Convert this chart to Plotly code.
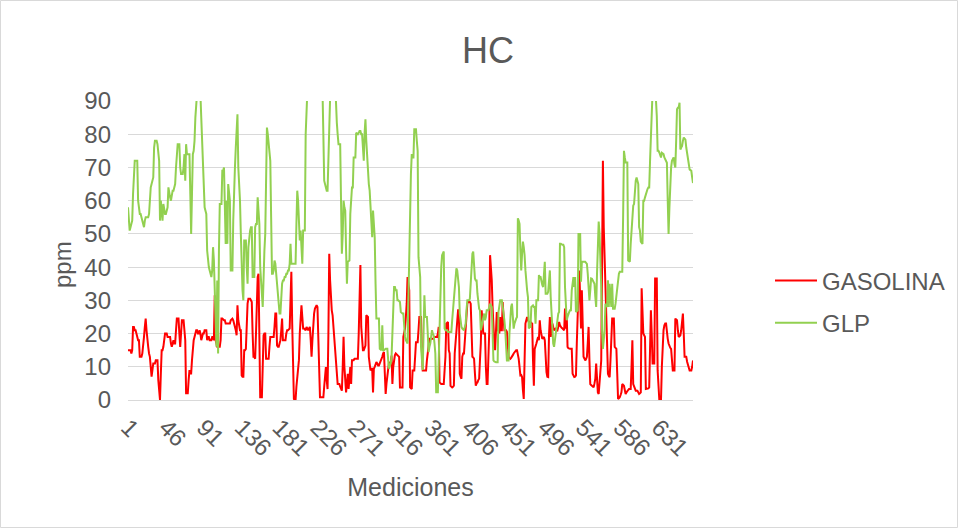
import plotly.graph_objects as go

# ---------------- data ----------------
gasolina = [
    15, 15, 15, 15, 14, 15, 22, 22, 21, 21,
    20, 19, 18, 18, 13, 13, 13, 14, 16, 19,
    22, 24.5, 21, 17, 16, 14, 13, 10, 7, 9,
    11, 11, 11, 12, 12, 12, 6, 3, 0, 8,
    15, 15, 16, 18, 20, 20, 20, 19, 19, 19,
    19, 17, 16, 17, 18, 17, 17, 21, 24.5, 24.5,
    24.5, 20, 16, 20, 24, 24, 24, 21, 18, 2,
    2, 2, 6, 9, 8, 8, 12, 16, 18, 19,
    20, 21, 21, 20, 20, 21, 20, 18, 19, 20,
    20, 21, 21, 21, 18, 19, 19, 18, 18, 18,
    19, 19, 18, 31.5, 18, 17, 16, 16, 16, 16,
    18, 24.5, 24.5, 24, 24, 24, 23, 23, 23, 23,
    23, 23, 24, 24.5, 24.5, 24, 23, 22.5, 21, 19.5,
    28.5, 24, 21.5, 21, 21, 7.4, 7, 7, 15, 15,
    15.4, 27, 29, 30.5, 30.5, 30.5, 30, 29.5, 20, 13,
    13, 12.4, 20, 34, 37, 38, 20, 0.8, 0.8, 0.8,
    10, 19.5, 20, 20, 12.4, 12.4, 12.4, 12.4, 16, 19,
    19, 19, 19, 19, 22, 26, 26, 16.4, 16, 16,
    17, 18, 21, 24.5, 18, 18, 18, 18, 20, 21,
    21, 21.5, 21.5, 30, 38.6, 23, 12, 0.3, 0, 0,
    4, 7, 7.4, 12, 20, 24, 28.5, 25, 21.5, 21.5,
    21, 21, 22, 21.5, 21, 21.5, 22, 18, 13, 18,
    24, 26, 27.5, 28, 28.5, 28, 20, 15, 0.8, 0.8,
    0.8, 0.8, 0.8, 4, 7, 9.9, 6, 3.3, 20, 44,
    36, 28, 27, 25.5, 22, 18.4, 14, 11, 7, 4.8,
    4.8, 4.8, 4, 3, 2.8, 10, 19, 10, 4.8, 2.3,
    5, 7.9, 3.3, 7, 9.9, 4.8, 12, 12, 12, 12.4,
    12.4, 12.4, 12.4, 12.4, 20, 28, 40.6, 22, 16.4, 15,
    15, 16, 16.4, 25.5, 25, 25, 13, 10, 8.9, 9.4,
    9.4, 2.3, 9.4, 10, 11, 11.4, 11, 10.4, 10.4, 11,
    11.4, 12, 13, 14, 14.4, 8, 1.8, 5, 7.9, 10,
    11.4, 11, 10.9, 13.4, 4.8, 10, 13, 13.5, 14, 13.7,
    13.4, 13.2, 13, 3.8, 3.8, 3.8, 3.8, 19, 20, 21.5,
    25, 29, 37, 35, 33, 3.8, 3.5, 3.3, 8.9, 8.9,
    8.9, 13, 17.4, 17.4, 17.4, 21, 25, 25, 25, 15,
    8.9, 8.9, 8.9, 8.9, 8.9, 12, 14.4, 17, 18.4, 18.4,
    18.4, 18.4, 18.4, 18.4, 19, 19, 19, 19, 20, 22,
    5.3, 5, 4.8, 4.8, 4.8, 4.8, 9, 13, 23, 23.5,
    23.5, 15, 14, 4.3, 4, 3.8, 4, 4.3, 14, 18,
    21, 26.5, 27, 27, 7.9, 7, 6.4, 13, 14, 14,
    18, 21, 26, 29, 29.5, 29.5, 29.5, 29, 20, 13,
    12.8, 12.4, 8, 4.3, 5, 5.3, 6, 6.4, 12, 17,
    27, 23, 20, 20, 20, 10, 4.8, 4.8, 12, 20.5,
    43.6, 40, 36, 28, 20, 17, 15, 20, 26.5, 21,
    21, 20, 25, 21, 21, 29.5, 25, 21, 21, 21,
    20.5, 16, 13, 12.6, 12.4, 12.7, 13, 13.5, 14, 14.5,
    15, 15, 15, 14, 12.4, 10, 7.4, 7.5, 6.9, 3,
    0.3, 12, 23, 24, 25, 24, 23.5, 23.5, 23.5, 23.2,
    23, 12, 4.3, 15.4, 16, 17, 18, 19, 18, 24,
    21, 19, 18.4, 18.7, 19, 18, 12, 8.4, 7, 6.9,
    19.5, 25, 19, 21, 23, 22, 21, 21.3, 21.5, 21.2,
    21, 22, 23.5, 22.5, 22, 21.7, 21.5, 21.2, 21, 27.5,
    21.5, 26, 16, 15.6, 15.4, 15.4, 15.4, 15.4, 7.9, 7.4,
    6.9, 7, 7.4, 17, 27.5, 33, 39, 30, 21.5, 33,
    23, 13, 12.5, 11.9, 12.3, 13, 17, 22, 12, 4.8,
    4.5, 4.3, 4, 3.8, 5, 6.4, 11, 6, 2.3, 1.8,
    4.5, 7.9, 11.9, 40, 72, 52, 43, 33, 28, 23,
    7.9, 7.2, 6.9, 12, 18, 24.5, 24.5, 24.5, 16, 15.7,
    15.4, 8, 0.3, 0.5, 0.8, 1.5, 2.3, 4.8, 4.5, 4.3,
    3, 1.8, 2.3, 2.8, 3, 3.3, 3.3, 3.3, 10, 18,
    4.8, 4, 3.3, 2.8, 2.8, 2.8, 2.3, 1.8, 2, 2.3,
    33.6, 25, 20, 19.5, 19, 3.3, 3.3, 3.3, 3.5, 3.8,
    15, 27, 20, 11, 11, 11, 36.6, 36.6, 36.6, 8.9,
    3, 0, 0, 0, 10, 19.5, 21, 22.5, 23, 23,
    20, 18.4, 17, 16, 15.7, 15.4, 12, 8.9, 8.9, 8.9,
    24.5, 24.2, 24, 21, 19, 19.2, 19.5, 21, 23, 26,
    20, 13, 13, 13, 11.5, 10.4, 9.5, 8.9, 8.9, 8.9,
    10, 11.9,
]

glp = [
    58, 55, 51, 52, 53, 54, 62, 69, 72, 72,
    72, 72, 60, 57, 56, 56, 55, 54, 53, 52,
    54, 55, 55, 55, 55, 56, 63, 64, 65, 66,
    67, 76, 78, 78, 78, 77, 75, 72, 54, 60,
    57, 54, 59, 57, 56, 56, 57, 58, 64, 62,
    61, 60, 62, 63, 63, 64, 65, 70, 76, 77,
    77, 77, 70, 68, 68, 68, 70, 74, 66, 77,
    74, 74, 74, 74, 62, 50, 62, 74, 75, 78,
    85, 92, 95, 96, 95, 93, 92, 85, 78, 73,
    65, 58, 57, 56, 45, 41, 40, 39, 38, 37,
    39, 46, 42, 30, 19, 16, 36, 14, 45, 59,
    59, 59, 69, 69, 70, 61, 47, 60, 47, 65,
    62, 60, 39, 39, 39, 54, 65, 70, 76, 80,
    86, 70, 66, 60, 50, 38, 33, 30, 48, 48,
    48, 40, 35, 46, 49, 51, 52, 52, 37, 37,
    37, 52, 53, 53, 61, 57, 53, 40, 37, 32,
    28, 39, 45, 50, 73, 82, 80, 77, 75, 72,
    55, 38, 38, 39, 42, 41, 38, 35, 30, 27,
    26, 26, 33, 35, 36, 36, 37, 37, 38, 38,
    39, 39, 41, 47, 41, 41, 41, 41, 41, 41,
    53, 63, 60, 55, 48, 51, 46, 41, 51, 51,
    51, 80, 95, 100, 104, 106, 105, 103, 101, 100,
    102, 104, 105, 103, 101, 100, 98, 99, 101, 100,
    97, 93, 80, 66, 65, 64, 63, 63, 77, 88,
    96, 100, 101, 102, 100, 99, 96, 88, 83.5, 80,
    77, 77, 77, 60, 44, 50, 60, 58, 57, 45,
    35, 41.6, 42, 42, 56, 62, 64, 64, 73, 73,
    73, 80.4, 80, 80, 80.4, 81, 81, 80, 80, 76,
    72, 80.4, 84.5, 78, 73, 69, 65, 63, 58, 54,
    49, 57, 52, 49, 35, 24.5, 24.5, 24.5, 24.5, 15.4,
    15, 15, 22.5, 15, 15, 15.4, 15.4, 15.4, 15.4, 12,
    9.4, 10.4, 11, 13, 20, 27.5, 34, 34, 33, 33,
    30, 30, 29.5, 29.5, 26.5, 26, 26, 26, 22, 19,
    18, 17.4, 17, 30, 43, 60, 68, 74, 73, 73,
    81.5, 81.5, 81.5, 78, 75, 43, 40, 37, 16, 12,
    9, 20, 31.5, 25, 25, 25, 20, 14.4, 16, 17,
    19, 21, 20, 19.5, 17, 14, 2.3, 2.3, 2.3, 12,
    24, 34, 40, 43.6, 44, 44.7, 21.5, 21, 21, 21,
    20.5, 20.5, 20.5, 20.5, 20.5, 24, 27.5, 32, 35.6, 36,
    39.6, 39, 36, 34, 26, 23.5, 22, 21.5, 21, 21,
    22, 23, 27, 30, 30, 30, 30.5, 35, 40, 44,
    44.7, 40, 36.6, 36, 36, 32, 28, 27.5, 27, 21,
    22, 24, 25, 26, 24, 25, 27, 27, 27, 28,
    29, 28.5, 28, 20, 11.9, 11.6, 11.4, 11.4, 11.4, 11.4,
    26.5, 28, 30, 30, 30, 28, 26.5, 24, 21, 15,
    11.9, 11.9, 11.9, 20, 26.5, 28, 29, 25, 21.5, 23,
    24, 24.5, 25, 54.7, 54, 53, 45, 39, 44, 47.7,
    46, 43.6, 39, 35, 33, 31, 21.5, 22, 22, 28,
    28.5, 28.5, 28, 28, 23, 30, 30, 30, 37.6, 37,
    37, 35, 34.6, 34, 38, 41.6, 32, 32, 32, 32.6,
    35, 39, 31, 25, 19, 17, 16, 18, 20.5, 23,
    24, 26, 26.5, 47, 47, 46.7, 46.7, 46.7, 46, 34,
    28, 24, 25, 26, 26.5, 27, 27, 33, 36.6, 37,
    34, 37, 26.5, 27, 27, 50, 50, 50, 35.6, 41.6,
    41.6, 41.6, 41.6, 41.6, 41.3, 41, 38, 34, 30, 33,
    36.6, 36.5, 36, 35.5, 35, 31, 28, 38, 49.7, 53.7,
    50, 44, 34, 21, 15.4, 18, 21, 29, 28.5, 28,
    36, 28, 35, 30, 28, 35, 27.5, 27.5, 27.5, 29,
    31.5, 34, 37, 38, 38.6, 38.6, 38.6, 38.6, 55, 75,
    73, 71.5, 71.5, 71.5, 42, 41.8, 41.6, 47, 51, 58,
    58.5, 59, 64, 66, 67, 66, 65, 52, 51, 47.7,
    47.3, 47, 60, 60, 61, 62, 63, 63.5, 64, 64,
    72, 85, 95, 100, 100, 100, 95, 90, 85.5, 75,
    75, 74.5, 74, 73, 74.4, 74.2, 74, 73, 72.4, 72,
    71.4, 60, 50, 58, 67, 70, 72, 72.5, 73, 71,
    70, 78, 87.5, 88, 88, 89.5, 75.4, 76, 76.4, 78,
    79, 78.7, 78.4, 76, 74, 73.4, 71, 69.4, 69.2, 69,
    67, 65.3,
]

x_tick_values = [1, 46, 91, 136, 181, 226, 271, 316, 361, 406, 451, 496, 541, 586, 631]
x_tick_labels = [str(v) for v in x_tick_values]
y_tick_values = [0, 10, 20, 30, 40, 50, 60, 70, 80, 90]

mediciones_gas = list(range(1, len(gasolina) + 1))
mediciones_glp = list(range(1, len(glp) + 1))
n_points = max(len(gasolina), len(glp))

TEXT = "#595959"
GRID = "#D9D9D9"
FONT = "Liberation Sans, Arial, sans-serif"

fig = go.Figure()
fig.add_trace(go.Scatter(
    x=mediciones_gas, y=gasolina, mode="lines", name="GASOLINA",
    line=dict(color="#FF0000", width=2), legendgroup="g1",
))
fig.add_trace(go.Scatter(
    x=mediciones_glp, y=glp, mode="lines", name="GLP",
    line=dict(color="#92D050", width=2), legendgroup="g2",
))

W, H = 959, 529
L, R, T, B = 128, 266, 101, 129
pw, ph = W - L - R, H - T - B


def px_to_paper_x(px):
    return (px - L) / pw


def px_to_paper_y(py):
    return (H - B - py) / ph


fig.update_layout(
    width=W, height=H,
    margin=dict(l=L, r=R, t=T, b=B, pad=0, autoexpand=False),
    paper_bgcolor="white", plot_bgcolor="white",
    font=dict(family=FONT, color=TEXT, size=24),
    title=dict(text="HC", x=488 / W, xanchor="center", y=1 - 50 / H, yanchor="middle",
               xref="container", yref="container",
               font=dict(size=36, color=TEXT, family=FONT)),
    showlegend=True,
    legend=dict(
        x=px_to_paper_x(770), xanchor="left",
        y=px_to_paper_y(302), yanchor="middle",
        font=dict(size=24, color=TEXT, family=FONT),
        traceorder="grouped", tracegroupgap=8, itemwidth=42,
        bgcolor="rgba(0,0,0,0)",
    ),
    xaxis=dict(
        range=[1, n_points], tickmode="array",
        tickvals=x_tick_values, ticktext=x_tick_labels,
        tickangle=45, ticks="", showgrid=False, zeroline=False,
        showline=True, linecolor=GRID, linewidth=1,
        tickfont=dict(size=24, color=TEXT, family=FONT),
        ticklabelstandoff=3,
        title=dict(text="Mediciones", standoff=18,
                   font=dict(size=25, color=TEXT, family=FONT)),
    ),
    yaxis=dict(
        range=[0, 90], tickmode="array", tickvals=y_tick_values,
        ticks="", showgrid=True, gridcolor=GRID, gridwidth=1,
        zeroline=False, showline=False,
        tickfont=dict(size=24, color=TEXT, family=FONT),
        ticklabelstandoff=16,
    ),
    annotations=[dict(
        text="ppm", textangle=-90, xref="paper", yref="paper",
        x=px_to_paper_x(62), y=px_to_paper_y(265),
        xanchor="center", yanchor="middle", showarrow=False,
        font=dict(size=24, color=TEXT, family=FONT),
    )],
    shapes=[dict(
        type="rect", xref="paper", yref="paper",
        x0=px_to_paper_x(0.5), x1=px_to_paper_x(957.5),
        y0=px_to_paper_y(527.5), y1=px_to_paper_y(0.5),
        line=dict(color=GRID, width=1), fillcolor="rgba(0,0,0,0)", layer="below",
    )],
)

fig.write_html(
    "out.html",
    config={"displayModeBar": False},
    post_script="document.body.style.margin='0';document.body.style.padding='0';",
)
